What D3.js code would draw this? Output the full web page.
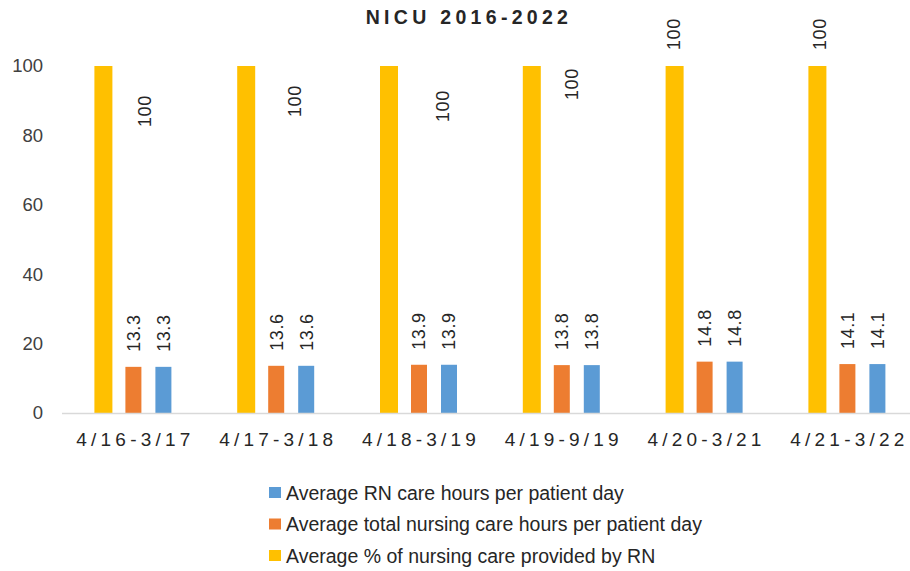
<!DOCTYPE html>
<html>
<head>
<meta charset="utf-8">
<script src="https://cdn.jsdelivr.net/npm/d3@7"></script>
<style>
  body { margin: 0; background: #fff; }
  text { font-family: "Liberation Sans", "DejaVu Sans", sans-serif; }
</style>
</head>
<body>
<div id="svg"></div>
<script>

// data
var periods = ["4/16-3/17", "4/17-3/18", "4/18-3/19", "4/19-9/19", "4/20-3/21", "4/21-3/22"];
var pctByRN = [100, 100, 100, 100, 100, 100];
var totalHours = [13.3, 13.6, 13.9, 13.8, 14.8, 14.1];
var rnHours = [13.3, 13.6, 13.9, 13.8, 14.8, 14.1];
var yTicks = [0, 20, 40, 60, 80, 100];

var seriesNames = ["Average % of nursing care provided by RN",
		   "Average total nursing care hours per patient day",
		   "Average RN care hours per patient day"];

// the "100" labels were moved by hand in the original, keep the nudges here
var pctLabelNudge = [[41, 61], [48, 51], [54, 56], [40, 34], [-1, -16], [2, -16]];

var colors = ["#FFC000", "#ED7D31", "#5B9BD5"];
var barw = [18, 16, 16];

var width = 910, height = 571;
var plot = {left: 62, top: 66, bot: 413, step: 142.8};

var series = [pctByRN, totalHours, rnHours];

var svg = d3.select("#svg").append("svg")
    .attr("width", width)
    .attr("height", height);

var x = d3.scaleBand()
    .domain(periods)
    .range([plot.left, plot.left + plot.step * periods.length])
    .padding(0);

var xin = d3.scalePoint()
    .domain([0, 1, 2])
    .range([0, x.bandwidth()])
    .padding(1.38);

var y = d3.scaleLinear()
    .domain([0, 100])
    .range([plot.bot, plot.top]);

// title
svg.append("text")
    .attr("x", 469)
    .attr("y", 24)
    .attr("text-anchor", "middle")
    .attr("font-size", 19.5)
    .attr("font-weight", "bold")
    .attr("letter-spacing", 4.3)
    .attr("fill", "#262626")
    .text("NICU 2016-2022");

// y axis labels only, no line
var yax = svg.append("g")
    .attr("transform", "translate(" + (plot.left - 14) + ",0)")
    .call(d3.axisLeft(y).tickValues(yTicks).tickSize(0).tickPadding(5));
yax.select(".domain").remove();
yax.selectAll("text")
    .attr("font-size", 18.5)
    .attr("font-family", "Liberation Sans, sans-serif")
    .attr("fill", "#404040");

// bars
series.forEach(function(vals, s) {
    var g = svg.append("g").attr("class", "serie-" + s);
    g.selectAll("rect")
	.data(vals)
	.enter()
	.append("rect")
	.attr("x", function(d, i) { return x(periods[i]) + xin(s) - barw[s] / 2; })
	.attr("y", function(d) { return y(d); })
	.attr("width", barw[s])
	.attr("height", function(d) { return y(0) - y(d); })
	.attr("fill", colors[s]);
});

// baseline
svg.append("line")
    .attr("x1", plot.left)
    .attr("x2", width)
    .attr("y1", y(0) + 0.5)
    .attr("y2", y(0) + 0.5)
    .attr("stroke", "#D9D9D9")
    .attr("stroke-width", 1.5);

// x labels
var xax = svg.append("g")
    .attr("transform", "translate(0," + y(0) + ")")
    .call(d3.axisBottom(x).tickSize(0).tickPadding(20));
xax.select(".domain").remove();
xax.selectAll("text")
    .attr("font-size", 19)
    .attr("font-family", "Liberation Sans, sans-serif")
    .attr("letter-spacing", 4.2)
    .attr("dx", 2)
    .attr("fill", "#262626");

// data labels
function label_xy(s, d, i) {
    var bx = x(periods[i]) + xin(s);
    var by = y(d);
    if (s == 0) {
	return [bx + pctLabelNudge[i][0], by + pctLabelNudge[i][1]];
    }
    return [bx, by - 15];
}

series.forEach(function(vals, s) {
    svg.append("g").selectAll("text")
	.data(vals)
	.enter()
	.append("text")
	.attr("transform", function(d, i) {
	    var p = label_xy(s, d, i);
	    return "translate(" + p[0] + "," + p[1] + ") rotate(-90)";
	})
	.attr("dy", "0.35em")
	.attr("text-anchor", "start")
	.attr("font-size", 18)
	.attr("letter-spacing", 0.6)
	.attr("fill", "#262626")
	.text(function(d) { return s == 0 ? d3.format("d")(d) : d3.format(".1f")(d); });
});

// legend, reversed order
var legend = svg.append("g")
    .attr("transform", "translate(269,487)");
var leg = legend.selectAll("g")
    .data([2, 1, 0])
    .enter()
    .append("g")
    .attr("transform", function(d, i) { return "translate(0," + (i * 31.5) + ")"; });
leg.append("rect")
    .attr("width", 12)
    .attr("height", 11)
    .attr("fill", function(d) { return colors[d]; });
leg.append("text")
    .attr("x", 17)
    .attr("y", 6)
    .attr("dy", "0.35em")
    .attr("font-size", 19.5)
    .attr("fill", "#262626")
    .text(function(d) { return seriesNames[d]; });

</script>
</body>
</html>
